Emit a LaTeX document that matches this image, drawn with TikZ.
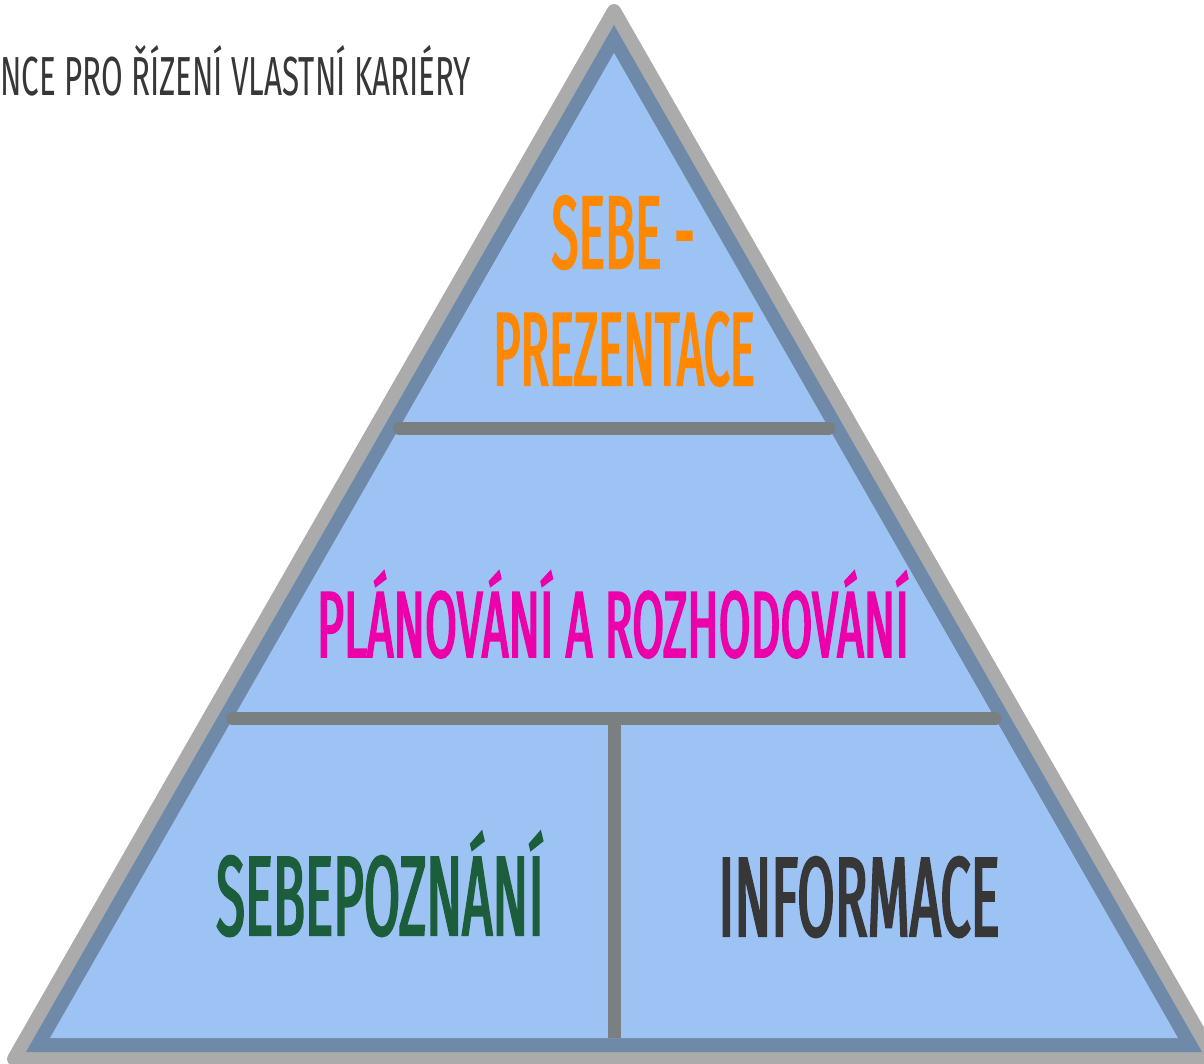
\documentclass[tikz,border=0pt]{standalone}
\usepackage{fontspec}
\setmainfont{Fira Sans}
\newfontfamily\pyramidfont[FakeStretch=0.48,FakeBold=2]{Fira Sans}
\newfontfamily\titlefont[FakeStretch=0.57]{Fira Sans}
\usetikzlibrary{calc}

\newlength{\du}
\setlength{\du}{1pt}

\definecolor{outlinegray}{rgb}{0.671, 0.671, 0.671}
\definecolor{outlineblue}{rgb}{0.435, 0.537, 0.659}
\definecolor{pyramidfill}{rgb}{0.612, 0.765, 0.957}
\definecolor{dividergray}{rgb}{0.478, 0.498, 0.510}
\definecolor{labelorange}{rgb}{1.000, 0.533, 0.000}
\definecolor{labelmagenta}{rgb}{0.925, 0.000, 0.667}
\definecolor{labelgreen}{rgb}{0.110, 0.369, 0.231}
\definecolor{labeldark}{rgb}{0.216, 0.216, 0.216}

\tikzset{
  divider/.style={draw=dividergray, line width=13\du, line cap=round},
  layerlabel/.style={anchor=base, inner sep=0pt},
}

\begin{document}
\begin{tikzpicture}
\pgftransformxscale{1.000000}
\pgftransformyscale{-1.000000}
\useasboundingbox (0\du,0\du) rectangle (1204\du,1064\du);
\clip (0\du,0\du) rectangle (1204\du,1064\du);
% pyramid corners (inner edge of the outline)
\coordinate (top) at (614\du,53\du);
\coordinate (left) at (50\du,1038\du);
\coordinate (right) at (1178\du,1038\du);
% outer gray rim
\draw[outlinegray, line width=14\du, line join=round] (614\du,11\du)--(14\du,1059\du)--(1214\du,1059\du)--cycle;
% blue rim and body
\draw[outlineblue, line width=28\du, miter limit=4] (top)--(left)--(right)--cycle;
\fill[pyramidfill] (top)--(left)--(right)--cycle;
% layer dividers
\coordinate (upperL) at ($(top)!0.381!(left)$);
\coordinate (upperR) at ($(top)!0.381!(right)$);
\coordinate (lowerL) at ($(top)!0.676!(left)$);
\coordinate (lowerR) at ($(top)!0.676!(right)$);
\coordinate (lowerM) at ($(lowerL)!0.5!(lowerR)$);
\coordinate (baseM) at ($(left)!0.5!(right)$);
\draw[divider] (upperL)--(upperR);
\draw[divider] (lowerL)--(lowerR);
\draw[divider, line cap=butt] (lowerM)--(baseM);
% labels
\node[layerlabel, anchor=base west, text=labeldark, font=\titlefont\fontsize{55}{60}\selectfont] (title) at (0\du,96\du){NCE PRO ŘÍZENÍ VLASTNÍ KARIÉRY};
\node[layerlabel, text=labelorange, font=\pyramidfont\fontsize{103}{110}\selectfont] (sebe) at (623\du,268\du){SEBE -};
\node[layerlabel, text=labelorange, font=\pyramidfont\fontsize{104}{110}\selectfont] (prezentace) at (624\du,385\du){\scalebox{0.94}[1]{PREZENTACE}};
\node[layerlabel, text=labelmagenta, font=\pyramidfont\fontsize{94}{100}\selectfont] (planovani) at (613\du,657\du){\scalebox{1.025}[1]{PLÁNOVÁNÍ A ROZHODOVÁNÍ}};
\node[layerlabel, text=labelgreen, font=\pyramidfont\fontsize{113}{120}\selectfont] (sebepoznani) at (380\du,935\du){\scalebox{0.97}[1]{SEBEPOZNÁNÍ}};
\node[layerlabel, text=labeldark, font=\pyramidfont\fontsize{113}{120}\selectfont] (informace) at (859\du,936\du){INFORMACE};
\end{tikzpicture}
\end{document}
